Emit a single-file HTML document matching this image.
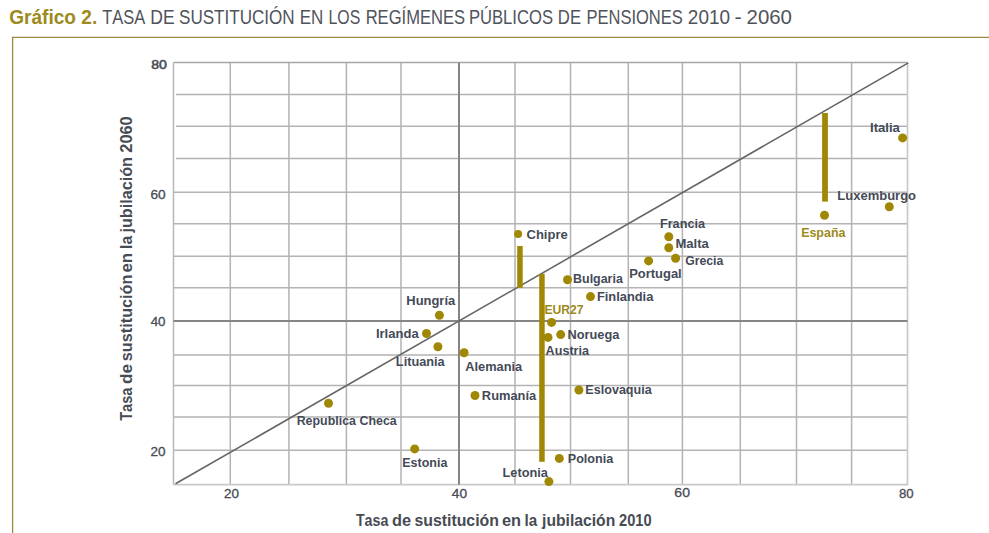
<!DOCTYPE html><html><head><meta charset="utf-8"><style>html,body{margin:0;padding:0;background:#fff;width:989px;height:533px;overflow:hidden}svg{display:block}text{font-family:"Liberation Sans",sans-serif;font-kerning:none;white-space:pre}</style></head><body>
<svg width="989" height="533" viewBox="0 0 989 533">
<rect width="989" height="533" fill="#fff"/>
<path d="M12.6 533V37.3H989" fill="none" stroke="#9a8a3c" stroke-width="1.3"/>
<text x="9.22" y="23.90" font-size="20.3" font-weight="bold" fill="#9c8a1d" textLength="88.00" lengthAdjust="spacingAndGlyphs">Gráfico 2.</text>
<text x="102.13" y="23.90" font-size="19.8" font-weight="normal" fill="#50535b" textLength="43.00" lengthAdjust="spacingAndGlyphs">TASA</text>
<text x="150.36" y="23.90" font-size="19.8" font-weight="normal" fill="#50535b" textLength="24.40" lengthAdjust="spacingAndGlyphs">DE</text>
<text x="179.03" y="23.90" font-size="19.8" font-weight="normal" fill="#50535b" textLength="115.56" lengthAdjust="spacingAndGlyphs">SUSTITUCIÓN</text>
<text x="299.71" y="23.90" font-size="19.8" font-weight="normal" fill="#50535b" textLength="23.58" lengthAdjust="spacingAndGlyphs">EN</text>
<text x="328.50" y="23.90" font-size="19.8" font-weight="normal" fill="#50535b" textLength="31.73" lengthAdjust="spacingAndGlyphs">LOS</text>
<text x="365.64" y="23.90" font-size="19.8" font-weight="normal" fill="#50535b" textLength="99.42" lengthAdjust="spacingAndGlyphs">REGÍMENES</text>
<text x="468.94" y="23.90" font-size="19.8" font-weight="normal" fill="#50535b" textLength="84.03" lengthAdjust="spacingAndGlyphs">PÚBLICOS</text>
<text x="557.83" y="23.90" font-size="19.8" font-weight="normal" fill="#50535b" textLength="23.19" lengthAdjust="spacingAndGlyphs">DE</text>
<text x="586.44" y="23.90" font-size="19.8" font-weight="normal" fill="#50535b" textLength="96.41" lengthAdjust="spacingAndGlyphs">PENSIONES</text>
<text x="687.85" y="23.90" font-size="19.8" font-weight="normal" fill="#50535b" textLength="42.19" lengthAdjust="spacingAndGlyphs">2010</text>
<text x="734.64" y="23.90" font-size="19.8" font-weight="normal" fill="#50535b" textLength="7.23" lengthAdjust="spacingAndGlyphs">-</text>
<text x="746.57" y="23.90" font-size="19.8" font-weight="normal" fill="#50535b" textLength="45.42" lengthAdjust="spacingAndGlyphs">2060</text>
<path d="M230.3 62.5V484.7M288.9 62.5V484.7M346.4 62.5V484.7M401.0 62.5V484.7M515.0 62.5V484.7M570.5 62.5V484.7M628.3 62.5V484.7M682.4 62.5V484.7M740.3 62.5V484.7M796.5 62.5V484.7M851.6 62.5V484.7M176 94.6H907.5M176 126.3H907.5M176 158.5H907.5M173.5 192.3H907.5M173.5 223.8H907.5M173.5 256.3H907.5M173.5 287.8H907.5M173.5 355.0H907.5M173.5 385.4H907.5M173.5 417.0H907.5M173.5 450.2H907.5" stroke="#b3b3b3" stroke-width="1.5" fill="none"/>
<path d="M173.5 62.5H907.5" stroke="#a6a6a6" stroke-width="1.5" fill="none"/>
<path d="M173.5 62.5V484.7" stroke="#b9b9b9" stroke-width="1.5" fill="none"/>
<path d="M173.5 484.7H907.5V62.5" stroke="#c9c9c9" stroke-width="1.7" fill="none"/>
<path d="M459 62.5V484.7M173.5 321H907.5" stroke="#858585" stroke-width="2" fill="none"/>
<path d="M175.5 483.8L908.3 62.9" stroke="#656565" stroke-width="1.6" fill="none"/>
<rect x="822.1" y="113.0" width="5.80" height="88.60" fill="#a08805"/>
<rect x="517.2" y="246.0" width="5.50" height="41.80" fill="#a08805"/>
<rect x="539.2" y="273.9" width="5.50" height="187.90" fill="#a08805"/>
<circle cx="902.6" cy="137.9" r="4.5" fill="#a08805"/>
<circle cx="889.3" cy="206.8" r="4.5" fill="#a08805"/>
<circle cx="824.5" cy="215.2" r="4.5" fill="#a08805"/>
<circle cx="668.8" cy="236.7" r="4.5" fill="#a08805"/>
<circle cx="668.8" cy="247.7" r="4.5" fill="#a08805"/>
<circle cx="675.6" cy="258.2" r="4.5" fill="#a08805"/>
<circle cx="648.6" cy="260.9" r="4.5" fill="#a08805"/>
<circle cx="518.1" cy="233.9" r="4.0" fill="#a08805"/>
<circle cx="567.5" cy="279.8" r="4.5" fill="#a08805"/>
<circle cx="590.5" cy="296.6" r="4.5" fill="#a08805"/>
<circle cx="551.6" cy="322.4" r="4.5" fill="#a08805"/>
<circle cx="560.7" cy="334.6" r="4.5" fill="#a08805"/>
<circle cx="548.0" cy="337.4" r="4.5" fill="#a08805"/>
<circle cx="439.4" cy="315.2" r="4.5" fill="#a08805"/>
<circle cx="426.5" cy="333.5" r="4.5" fill="#a08805"/>
<circle cx="437.9" cy="346.8" r="4.5" fill="#a08805"/>
<circle cx="464.1" cy="352.7" r="4.5" fill="#a08805"/>
<circle cx="475.0" cy="395.5" r="4.5" fill="#a08805"/>
<circle cx="578.9" cy="390.0" r="4.5" fill="#a08805"/>
<circle cx="328.5" cy="403.3" r="4.5" fill="#a08805"/>
<circle cx="414.7" cy="448.9" r="4.5" fill="#a08805"/>
<circle cx="559.3" cy="458.4" r="4.5" fill="#a08805"/>
<circle cx="548.9" cy="481.6" r="4.5" fill="#a08805"/>
<text x="870.02" y="131.70" font-size="12.3" font-weight="bold" fill="#444a57" textLength="29.89" lengthAdjust="spacingAndGlyphs">Italia</text>
<text x="837.33" y="199.60" font-size="12.3" font-weight="bold" fill="#444a57" textLength="78.68" lengthAdjust="spacingAndGlyphs">Luxemburgo</text>
<text x="801.17" y="236.60" font-size="12.3" font-weight="bold" fill="#9d8a1c" textLength="44.25" lengthAdjust="spacingAndGlyphs">España</text>
<text x="659.95" y="227.60" font-size="12.3" font-weight="bold" fill="#444a57" textLength="45.07" lengthAdjust="spacingAndGlyphs">Francia</text>
<text x="675.43" y="247.70" font-size="12.3" font-weight="bold" fill="#444a57" textLength="33.39" lengthAdjust="spacingAndGlyphs">Malta</text>
<text x="685.30" y="264.60" font-size="12.3" font-weight="bold" fill="#444a57" textLength="38.02" lengthAdjust="spacingAndGlyphs">Grecia</text>
<text x="629.23" y="277.50" font-size="12.3" font-weight="bold" fill="#444a57" textLength="52.48" lengthAdjust="spacingAndGlyphs">Portugal</text>
<text x="526.47" y="239.10" font-size="12.3" font-weight="bold" fill="#444a57" textLength="41.28" lengthAdjust="spacingAndGlyphs">Chipre</text>
<text x="573.07" y="283.40" font-size="12.3" font-weight="bold" fill="#444a57" textLength="49.75" lengthAdjust="spacingAndGlyphs">Bulgaria</text>
<text x="596.94" y="300.60" font-size="12.3" font-weight="bold" fill="#444a57" textLength="56.38" lengthAdjust="spacingAndGlyphs">Finlandia</text>
<text x="544.39" y="313.70" font-size="12.3" font-weight="bold" fill="#9d8a1c" textLength="39.15" lengthAdjust="spacingAndGlyphs">EUR27</text>
<text x="567.55" y="338.70" font-size="12.3" font-weight="bold" fill="#444a57" textLength="51.77" lengthAdjust="spacingAndGlyphs">Noruega</text>
<text x="545.59" y="354.50" font-size="12.3" font-weight="bold" fill="#444a57" textLength="43.43" lengthAdjust="spacingAndGlyphs">Austria</text>
<text x="406.33" y="305.00" font-size="12.3" font-weight="bold" fill="#444a57" textLength="48.88" lengthAdjust="spacingAndGlyphs">Hungría</text>
<text x="375.93" y="337.70" font-size="12.3" font-weight="bold" fill="#444a57" textLength="42.79" lengthAdjust="spacingAndGlyphs">Irlanda</text>
<text x="395.85" y="366.30" font-size="12.3" font-weight="bold" fill="#444a57" textLength="48.87" lengthAdjust="spacingAndGlyphs">Lituania</text>
<text x="465.28" y="370.50" font-size="12.3" font-weight="bold" fill="#444a57" textLength="56.84" lengthAdjust="spacingAndGlyphs">Alemania</text>
<text x="481.84" y="399.50" font-size="12.3" font-weight="bold" fill="#444a57" textLength="54.38" lengthAdjust="spacingAndGlyphs">Rumanía</text>
<text x="585.36" y="394.40" font-size="12.3" font-weight="bold" fill="#444a57" textLength="66.36" lengthAdjust="spacingAndGlyphs">Eslovaquia</text>
<text x="296.67" y="424.60" font-size="12.3" font-weight="bold" fill="#444a57" textLength="100.05" lengthAdjust="spacingAndGlyphs">Republica Checa</text>
<text x="402.27" y="466.60" font-size="12.3" font-weight="bold" fill="#444a57" textLength="45.06" lengthAdjust="spacingAndGlyphs">Estonia</text>
<text x="567.76" y="462.60" font-size="12.3" font-weight="bold" fill="#444a57" textLength="45.46" lengthAdjust="spacingAndGlyphs">Polonia</text>
<text x="502.55" y="476.60" font-size="12.3" font-weight="bold" fill="#444a57" textLength="45.37" lengthAdjust="spacingAndGlyphs">Letonia</text>
<text x="151.19" y="68.80" font-size="12.6" font-weight="normal" fill="#474b54" textLength="15.66" lengthAdjust="spacingAndGlyphs" stroke="#474b54" stroke-width="0.55">80</text>
<text x="150.50" y="198.80" font-size="12.6" font-weight="normal" fill="#474b54" textLength="15.23" lengthAdjust="spacingAndGlyphs" stroke="#474b54" stroke-width="0.3">60</text>
<text x="150.69" y="325.90" font-size="12.6" font-weight="normal" fill="#474b54" textLength="14.83" lengthAdjust="spacingAndGlyphs" stroke="#474b54" stroke-width="0.3">40</text>
<text x="150.52" y="455.80" font-size="12.6" font-weight="normal" fill="#474b54" textLength="15.01" lengthAdjust="spacingAndGlyphs" stroke="#474b54" stroke-width="0.3">20</text>
<text x="224.02" y="498.00" font-size="12.6" font-weight="normal" fill="#474b54" textLength="15.01" lengthAdjust="spacingAndGlyphs" stroke="#474b54" stroke-width="0.3">20</text>
<text x="451.79" y="497.70" font-size="12.6" font-weight="normal" fill="#474b54" textLength="15.25" lengthAdjust="spacingAndGlyphs" stroke="#474b54" stroke-width="0.3">40</text>
<text x="674.39" y="497.10" font-size="12.6" font-weight="normal" fill="#474b54" textLength="15.56" lengthAdjust="spacingAndGlyphs" stroke="#474b54" stroke-width="0.3">60</text>
<text x="899.03" y="498.00" font-size="12.6" font-weight="normal" fill="#474b54" textLength="14.69" lengthAdjust="spacingAndGlyphs" stroke="#474b54" stroke-width="0.3">80</text>
<text x="355.94" y="525.60" font-size="15.6" font-weight="bold" fill="#474b54" textLength="32.37" lengthAdjust="spacingAndGlyphs">Tasa</text>
<text x="392.13" y="525.60" font-size="15.6" font-weight="bold" fill="#474b54" textLength="19.03" lengthAdjust="spacingAndGlyphs">de</text>
<text x="414.44" y="525.60" font-size="15.6" font-weight="bold" fill="#474b54" textLength="84.44" lengthAdjust="spacingAndGlyphs">sustitución</text>
<text x="501.96" y="525.60" font-size="15.6" font-weight="bold" fill="#474b54" textLength="19.05" lengthAdjust="spacingAndGlyphs">en</text>
<text x="524.54" y="525.60" font-size="15.6" font-weight="bold" fill="#474b54" textLength="12.66" lengthAdjust="spacingAndGlyphs">la</text>
<text x="542.05" y="525.60" font-size="15.6" font-weight="bold" fill="#474b54" textLength="73.23" lengthAdjust="spacingAndGlyphs">jubilación</text>
<text x="618.99" y="525.60" font-size="15.6" font-weight="bold" fill="#474b54" textLength="32.61" lengthAdjust="spacingAndGlyphs">2010</text>
<text x="-420.86" y="132.00" font-size="15.6" font-weight="bold" fill="#474b54" textLength="33.27" lengthAdjust="spacingAndGlyphs" transform="rotate(-90)">Tasa</text>
<text x="-384.00" y="132.00" font-size="15.6" font-weight="bold" fill="#474b54" textLength="19.99" lengthAdjust="spacingAndGlyphs" transform="rotate(-90)">de</text>
<text x="-361.17" y="132.00" font-size="15.6" font-weight="bold" fill="#474b54" textLength="86.58" lengthAdjust="spacingAndGlyphs" transform="rotate(-90)">sustitución</text>
<text x="-272.56" y="132.00" font-size="15.6" font-weight="bold" fill="#474b54" textLength="19.71" lengthAdjust="spacingAndGlyphs" transform="rotate(-90)">en</text>
<text x="-248.90" y="132.00" font-size="15.6" font-weight="bold" fill="#474b54" textLength="13.10" lengthAdjust="spacingAndGlyphs" transform="rotate(-90)">la</text>
<text x="-232.55" y="132.00" font-size="15.6" font-weight="bold" fill="#474b54" textLength="75.55" lengthAdjust="spacingAndGlyphs" transform="rotate(-90)">jubilación</text>
<text x="-152.66" y="132.00" font-size="15.6" font-weight="bold" fill="#474b54" textLength="36.23" lengthAdjust="spacingAndGlyphs" transform="rotate(-90)">2060</text>
</svg></body></html>
